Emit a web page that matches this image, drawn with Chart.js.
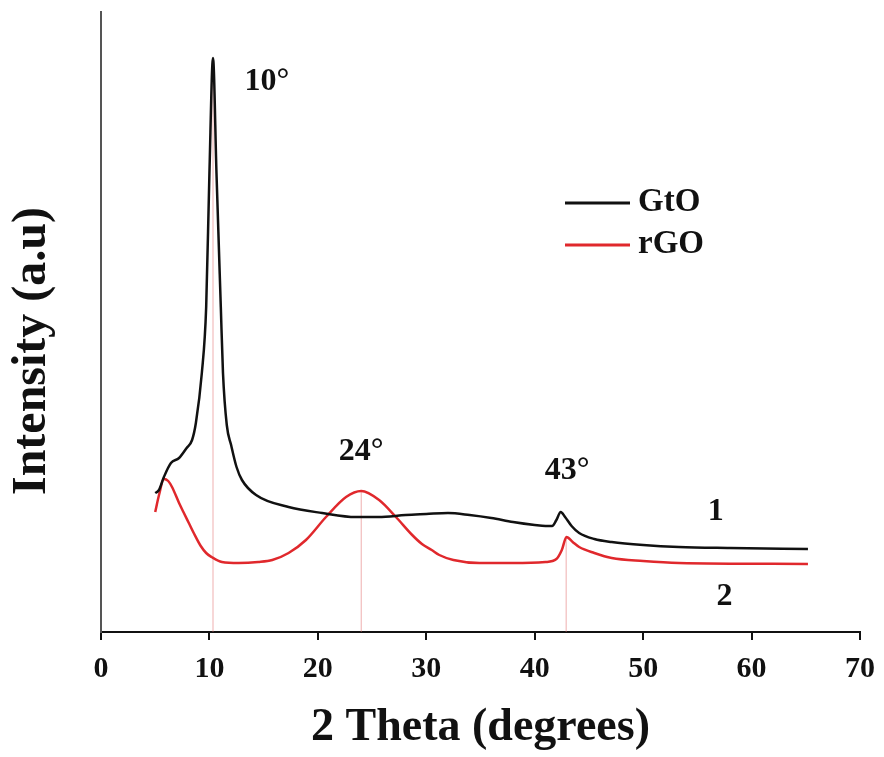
<!DOCTYPE html>
<html>
<head>
<meta charset="utf-8">
<script src="https://cdn.jsdelivr.net/npm/chart.js@4.4.0/dist/chart.umd.min.js"></script>
<style>
  html, body { margin: 0; padding: 0; background: #ffffff; }
  #wrap { width: 884px; height: 757px; }
</style>
</head>
<body>
<div id="wrap"><canvas id="c" width="884" height="757"></canvas></div>
<script>
// ---- Data ----
const seriesNames = ["GtO", "rGO"];
const curveLabels = ["1", "2"];
const xTitle = "2 Theta (degrees)";
const yTitle = "Intensity (a.u)";

const gtoX = [5.0, 5.35, 5.8, 6.45, 7.2, 7.9, 8.4, 8.75, 9.3, 9.7, 10.0, 10.33, 10.65, 11.05, 11.25, 11.6, 12.0, 12.5, 13.0, 14.3, 17.3, 20.4, 23.5, 25.6, 28.1, 30.0, 32.0, 34.0, 36.0, 38.0, 40.0, 41.0, 41.6, 42.0, 42.4, 42.8, 43.4, 44.1, 45.5, 47.1, 50.0, 53.3, 58.0, 65.2];
const gtoY = [139, 142, 155, 169, 174, 184, 192, 209, 259, 325, 459, 574, 459, 325, 259, 207, 187, 165, 152, 137, 125, 119, 115, 115, 117, 118, 119, 117, 114, 110, 107, 106, 106, 112, 120, 115, 106, 99, 93, 90, 87, 85, 84, 83];

const rgoX = [5.0, 5.35, 5.8, 6.2, 6.55, 7.2, 7.6, 8.1, 8.6, 9.2, 9.7, 10.2, 11.15, 12.7, 14.5, 15.8, 17.3, 18.9, 20.75, 22.6, 24.0, 25.65, 27.2, 28.7, 29.6, 30.5, 31.2, 32.5, 34.9, 38.0, 41.0, 42.0, 42.5, 42.93, 43.5, 44.1, 45.5, 47.1, 50.0, 53.3, 65.2];
const rgoY = [120, 137, 153, 151, 145, 129, 120, 109, 98, 86, 79, 75, 70, 69, 70, 72, 79, 92, 115, 135, 141, 132, 115, 97, 88, 82, 77, 72, 69, 69, 70, 73, 82, 95, 90, 85, 79, 74, 71, 69, 68];

// reference (peak marker) lines: position and height
const peakLabels = ["10°", "24°", "43°"];
const peakLineX = [10.33, 24.0, 42.9];
const peakLineTop = [574, 141, 95];

const xTicks = [0, 10, 20, 30, 40, 50, 60, 70];

// ---- build ----
const pts = (xs, ys) => xs.map((x, i) => ({ x: x, y: ys[i] }));
const SERIF = "'Liberation Serif', 'Times New Roman', serif";

const refSets = peakLineX.map((x, i) => ({
  label: "ref" + i,
  data: [{ x: x, y: 0 }, { x: x, y: peakLineTop[i] }],
  borderColor: "rgba(225,110,110,0.55)",
  borderWidth: 1,
  pointRadius: 0,
  order: 5
}));

const overlay = {
  id: "overlay",
  afterDatasetsDraw(chart) {
    const { ctx, scales: { x, y } } = chart;
    ctx.save();
    ctx.fillStyle = "#111";
    ctx.textAlign = "center";
    ctx.textBaseline = "middle";
    ctx.font = "bold 32px " + SERIF;
    // peak annotations (positions in data coords)
    const annX = [15.3, 24.0, 43.0];
    const annY = [550, 180, 161];
    peakLabels.forEach((t, i) => ctx.fillText(t, x.getPixelForValue(annX[i]), y.getPixelForValue(annY[i])));
    // curve numbers
    ctx.fillText(curveLabels[0], x.getPixelForValue(56.7), y.getPixelForValue(120));
    ctx.fillText(curveLabels[1], x.getPixelForValue(57.5), y.getPixelForValue(35));
    // legend
    const colors = ["#111111", "#e0282c"];
    const ly = [203, 245];
    ctx.textAlign = "left";
    ctx.font = "bold 33px " + SERIF;
    seriesNames.forEach((n, i) => {
      ctx.strokeStyle = colors[i];
      ctx.lineWidth = 3;
      ctx.beginPath();
      ctx.moveTo(565, ly[i]);
      ctx.lineTo(630, ly[i]);
      ctx.stroke();
      ctx.fillStyle = "#111";
      ctx.fillText(n, 638, ly[i] - 1);
    });
    // y axis title
    ctx.save();
    ctx.translate(33, 351);
    ctx.rotate(-Math.PI / 2);
    ctx.textAlign = "center";
    ctx.font = "bold 48px " + SERIF;
    ctx.fillText(yTitle, 0, 0);
    ctx.restore();
    ctx.restore();
  }
};

new Chart(document.getElementById("c"), {
  type: "line",
  data: {
    datasets: [
      ...refSets,
      {
        label: seriesNames[0],
        data: pts(gtoX, gtoY),
        borderColor: "#111111",
        borderWidth: 2.5,
        pointRadius: 0,
        cubicInterpolationMode: "monotone",
        order: 1
      },
      {
        label: seriesNames[1],
        data: pts(rgoX, rgoY),
        borderColor: "#e0282c",
        borderWidth: 2.5,
        pointRadius: 0,
        cubicInterpolationMode: "monotone",
        order: 2
      }
    ]
  },
  options: {
    responsive: false,
    animation: false,
    devicePixelRatio: 1,
    layout: { padding: { top: 12, right: 24, left: 0, bottom: 0 } },
    plugins: { legend: { display: false }, tooltip: { enabled: false } },
    scales: {
      x: {
        type: "linear",
        min: 0, max: 70,
        afterBuildTicks: (s) => { s.ticks = xTicks.map(v => ({ value: v })); },
        afterFit: (s) => { s.height = 125; s.paddingLeft = 0; s.paddingRight = 0; },
        grid: { display: true, drawOnChartArea: false, drawTicks: true, tickLength: 8, color: "#111", lineWidth: 2 },
        border: { display: true, color: "#111", width: 2 },
        ticks: { color: "#111", padding: 11, maxRotation: 0, font: { family: SERIF, size: 30, weight: "bold" } },
        title: { display: true, text: xTitle, color: "#111", padding: { top: 0, bottom: 1 }, font: { family: SERIF, size: 46, weight: "bold" } }
      },
      y: {
        type: "linear",
        min: 0, max: 620,
        afterFit: (s) => { s.width = 101; },
        grid: { display: false },
        border: { display: true, color: "#555", width: 2 },
        ticks: { display: false },
        title: { display: false, text: yTitle }
      }
    }
  },
  plugins: [overlay]
});
</script>
</body>
</html>
